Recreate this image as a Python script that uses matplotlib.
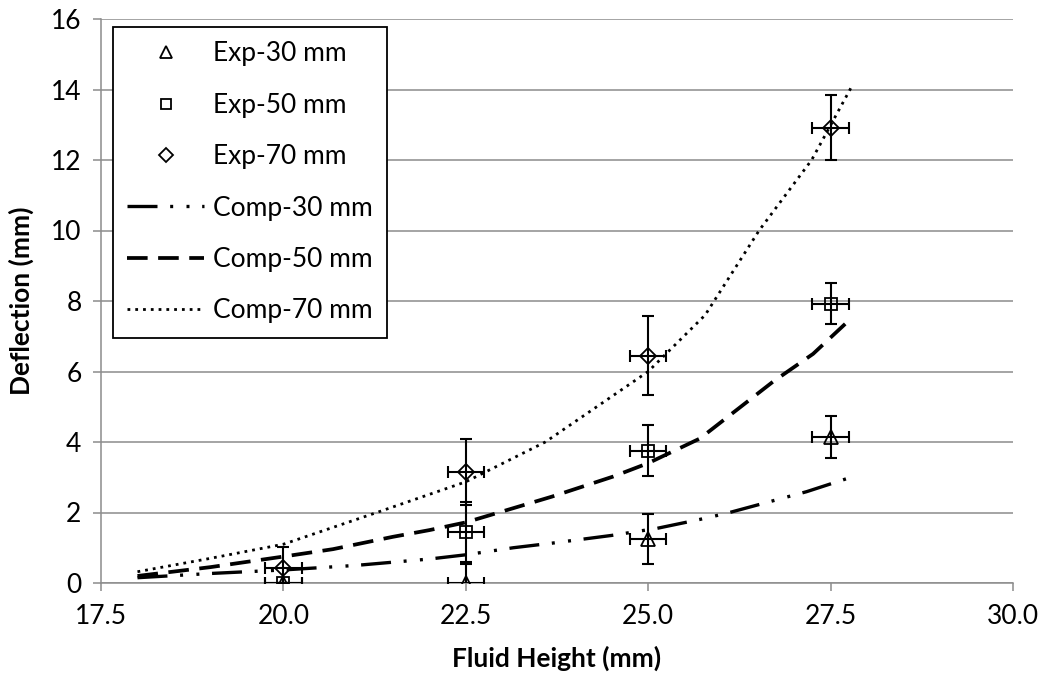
import matplotlib
matplotlib.use("Agg")
import matplotlib.pyplot as plt
from matplotlib.lines import Line2D

plt.rcParams['font.family'] = ['Lato', 'DejaVu Sans']

# Experimental data
exp_x = [20.0, 22.5, 25.0, 27.5]
exp30_y = [0.0, 0.0, 1.25, 4.15]
exp30_yerr = [0.0, 0.55, 0.72, 0.6]
exp50_y = [0.0, 1.45, 3.75, 7.92]
exp50_yerr = [0.0, 0.85, 0.72, 0.58]
exp70_y = [0.42, 3.15, 6.45, 12.92]
exp70_yerr = [0.6, 0.93, 1.12, 0.92]
exp_xerr = [0.25, 0.25, 0.25, 0.25]

# Computational curves
comp30_x = [18.0, 19.0, 20.0, 21.0, 22.0, 22.5, 23.15, 23.68, 24.5, 25.12, 25.7, 26.08, 27.17, 27.81]
comp30_y = [0.15, 0.27, 0.37, 0.5, 0.68, 0.8, 1.0, 1.13, 1.35, 1.55, 1.8, 1.98, 2.59, 3.02]
comp50_x = [18.0, 19.0, 20.0, 20.68, 21.5, 22.0, 22.5, 23.68, 24.52, 25.0, 25.71, 26.71, 27.26, 27.7]
comp50_y = [0.2, 0.45, 0.75, 0.96, 1.31, 1.5, 1.72, 2.45, 3.02, 3.4, 4.1, 5.71, 6.5, 7.35]
comp70_x = [18.0, 19.0, 20.0, 21.28, 22.5, 23.59, 25.0, 25.78, 26.52, 27.24, 27.78]
comp70_y = [0.32, 0.7, 1.1, 2.0, 2.87, 4.0, 6.0, 7.6, 10.0, 12.0, 14.05]

xticks = [17.5, 20.0, 22.5, 25.0, 27.5, 30.0]
yticks = [0, 2, 4, 6, 8, 10, 12, 14, 16]

fig = plt.figure(figsize=(10.49, 6.86), dpi=100)
ax = fig.add_axes([101/1049, 1-583/686, 912/1049, 564/686])

fs = 19
grid_c = '#8c8c8c'
ax.set_xlim(17.5, 30.0)
ax.set_ylim(0, 16)
ax.set_xticks(xticks)
ax.set_xticklabels([f"{t:.1f}" for t in xticks])
ax.set_yticks(yticks)
ax.yaxis.grid(True, color=grid_c, linewidth=1.1)
ax.set_axisbelow(True)
for s in ['top', 'right']:
    ax.spines[s].set_visible(False)
for s in ['left', 'bottom']:
    ax.spines[s].set_color(grid_c)
    ax.spines[s].set_linewidth(1.1)
ax.tick_params(axis='both', colors=grid_c, length=6, width=1.1, labelsize=fs, labelcolor='black')
ax.tick_params(axis='x', pad=9)
ax.tick_params(axis='y', pad=8)

l30, = ax.plot(comp30_x, comp30_y, color='black', linewidth=2.4,
               linestyle=(0, (9.0, 3.8, 0.9, 4.0, 0.9, 3.8)))
l50, = ax.plot(comp50_x, comp50_y, color='black', linewidth=2.7,
               linestyle=(0, (5.5, 2.8)))
l70, = ax.plot(comp70_x, comp70_y, color='black', linewidth=2.0,
               linestyle=(0, (1.0, 1.8)))

eb_kw = dict(fmt='none', ecolor='black', elinewidth=1.5, capsize=4, capthick=1.5, zorder=4)
ax.errorbar(exp_x, exp30_y, yerr=exp30_yerr, xerr=exp_xerr, **eb_kw)
ax.errorbar(exp_x, exp50_y, yerr=exp50_yerr, xerr=exp_xerr, **eb_kw)
ax.errorbar(exp_x, exp70_y, yerr=exp70_yerr, xerr=exp_xerr, **eb_kw)
mk_kw = dict(linestyle='none', markerfacecolor='none', markeredgecolor='black',
             markeredgewidth=1.3, zorder=5)
m30, = ax.plot(exp_x, exp30_y, marker='^', markersize=10, **mk_kw)
m50, = ax.plot(exp_x, exp50_y, marker='s', markersize=8, **mk_kw)
m70, = ax.plot(exp_x, exp70_y, marker='D', markersize=8, **mk_kw)

ax.set_xlabel('Fluid Height (mm)', fontsize=fs, fontweight='bold', labelpad=12)
ax.set_ylabel('Deflection (mm)', fontsize=fs, fontweight='bold', labelpad=12)

h30 = Line2D([], [], marker='^', markersize=8, **mk_kw)
h50 = Line2D([], [], marker='s', markersize=7, **mk_kw)
h70 = Line2D([], [], marker='D', markersize=7, **mk_kw)
leg = ax.legend([h30, h50, h70, l30, l50, l70],
                ['Exp-30 mm', 'Exp-50 mm', 'Exp-70 mm', 'Comp-30 mm', 'Comp-50 mm', 'Comp-70 mm'],
                loc='upper left', bbox_to_anchor=(0.013, 0.986), fontsize=fs,
                frameon=True, fancybox=False, framealpha=1, edgecolor='black',
                labelspacing=1.0, handlelength=2.9, handletextpad=0.35, borderpad=0.55,
                borderaxespad=0)
leg.get_frame().set_linewidth(1.3)

fig.savefig('out.png', dpi=100)
